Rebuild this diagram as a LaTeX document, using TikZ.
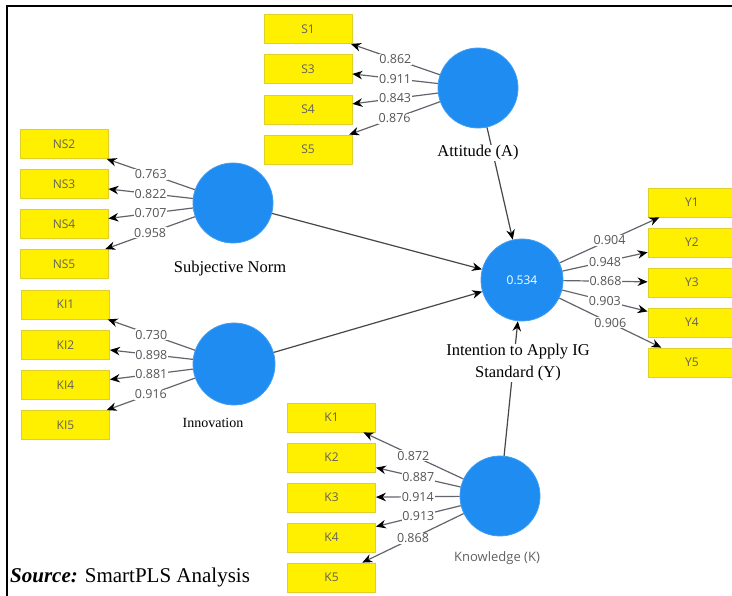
\documentclass[tikz,border=0pt]{standalone}
\usepackage{fontspec}
\setmainfont{Liberation Serif}
\newfontfamily\uisans{Open Sans}
\usetikzlibrary{arrows.meta}
\definecolor{plsblue}{RGB}{30,140,240}
\definecolor{plsyellow}{RGB}{255,240,0}
\definecolor{plsedge}{RGB}{222,208,40}
\definecolor{numgray}{RGB}{85,85,85}
\definecolor{linegray}{RGB}{100,100,110}
\begin{document}
\begin{tikzpicture}[x=1pt,y=-1pt,
  ind/.style={rectangle, fill=plsyellow, draw=plsedge, line width=0.8pt,
    minimum width=88pt, minimum height=29pt, inner sep=0pt,
    font=\uisans\fontsize{12}{14}\selectfont, text=black!62},
  lat/.style={circle, fill=plsblue, draw=plsblue!85!white, line width=0.8pt,
    minimum size=80pt, inner sep=0pt},
  load/.style={draw=linegray, line width=1.2pt,
    -{Stealth[length=10pt,width=8.5pt,color=black]}},
  struct/.style={draw=black!72, line width=1.2pt,
    -{Stealth[length=10pt,width=8.5pt,color=black]}},
  num/.style={fill=white, inner sep=0.8pt,
    font=\uisans\fontsize{12.5}{14}\selectfont, text=numgray},
  latlab/.style={fill=white, inner sep=1pt, font=\fontsize{16.5}{22}\selectfont}
]
\useasboundingbox (0,0) rectangle (732,596);
\fill[white] (0,0) rectangle (732,596);
\draw[line width=1.8pt] (7,596) -- (7,6) -- (734,6);

% latent variables
\node[lat] (att) at (478,88) {};
\node[lat] (sn) at (233,203) {};
\node[lat, minimum size=82pt] (inn) at (234,364) {};
\node[lat, minimum size=82pt, text=white, font=\uisans\fontsize{12}{14}\selectfont] (int) at (522,280) {0.534};
\node[lat] (kn) at (500,496) {};

% indicators
\node[ind] (s1) at (308,29) {S1};
\node[ind] (s3) at (308,69) {S3};
\node[ind] (s4) at (308,109.5) {S4};
\node[ind] (s5) at (308,149.5) {S5};

\node[ind] (ns2) at (64,144) {NS2};
\node[ind] (ns3) at (64,184) {NS3};
\node[ind] (ns4) at (64,224) {NS4};
\node[ind] (ns5) at (64,264) {NS5};

\node[ind] (ki1) at (65.5,304.5) {KI1};
\node[ind] (ki2) at (65.5,345) {KI2};
\node[ind] (ki4) at (65.5,385) {KI4};
\node[ind] (ki5) at (65.5,425) {KI5};

\node[ind] (k1) at (331.5,417.5) {K1};
\node[ind] (k2) at (331.5,457.5) {K2};
\node[ind] (k3) at (331.5,497.5) {K3};
\node[ind] (k4) at (331.5,537.5) {K4};
\node[ind] (k5) at (331.5,577.5) {K5};

\node[ind] (y1) at (692,202.5) {Y1};
\node[ind] (y2) at (692,242.5) {Y2};
\node[ind] (y3) at (692,282.5) {Y3};
\node[ind] (y4) at (692,322.5) {Y4};
\node[ind] (y5) at (692,362.5) {Y5};

% outer loadings
\draw[load] (att) -- node[num] {0.862} (s1);
\draw[load] (att) -- node[num] {0.911} (s3);
\draw[load] (att) -- node[num] {0.843} (s4);
\draw[load] (att) -- node[num] {0.876} (s5);

\draw[load] (sn) -- node[num] {0.763} (ns2);
\draw[load] (sn) -- node[num] {0.822} (ns3);
\draw[load] (sn) -- node[num] {0.707} (ns4);
\draw[load] (sn) -- node[num] {0.958} (ns5);

\draw[load] (inn) -- node[num] {0.730} (ki1);
\draw[load] (inn) -- node[num] {0.898} (ki2);
\draw[load] (inn) -- node[num] {0.881} (ki4);
\draw[load] (inn) -- node[num] {0.916} (ki5);

\draw[load] (kn) -- node[num] {0.872} (k1);
\draw[load] (kn) -- node[num] {0.887} (k2);
\draw[load] (kn) -- node[num] {0.914} (k3);
\draw[load] (kn) -- node[num] {0.913} (k4);
\draw[load] (kn) -- node[num] {0.868} (k5);

\draw[load] (int) -- node[num] {0.904} (y1);
\draw[load] (int) -- node[num] {0.948} (y2);
\draw[load] (int) -- node[num] {0.868} (y3);
\draw[load] (int) -- node[num] {0.903} (y4);
\draw[load] (int) -- node[num] {0.906} (y5);

% structural paths
\draw[struct] (att) -- (int);
\draw[struct] (sn) -- (int);
\draw[struct] (inn) -- (int);
\draw[struct] (kn) -- (int);

% latent labels
\node[latlab] (attl) at (478,153) {Attitude (A)};
\node[latlab] (snl) at (230,269) {Subjective Norm};
\node[latlab, font=\fontsize{14}{16}\selectfont] (innl) at (213,423) {Innovation};
\node[latlab, align=center] (intl) at (518,363) {Intention to Apply IG\\Standard (Y)};
\node[fill=white, inner sep=1pt, font=\uisans\fontsize{13}{15}\selectfont, text=black!62] (knl) at (497,558) {Knowledge (K)};

% caption
\node[anchor=base west, inner sep=0pt, font=\fontsize{21}{24}\selectfont] (src) at (10,582)
  {\textbf{\textit{Source:}} SmartPLS Analysis};
\end{tikzpicture}
\end{document}
